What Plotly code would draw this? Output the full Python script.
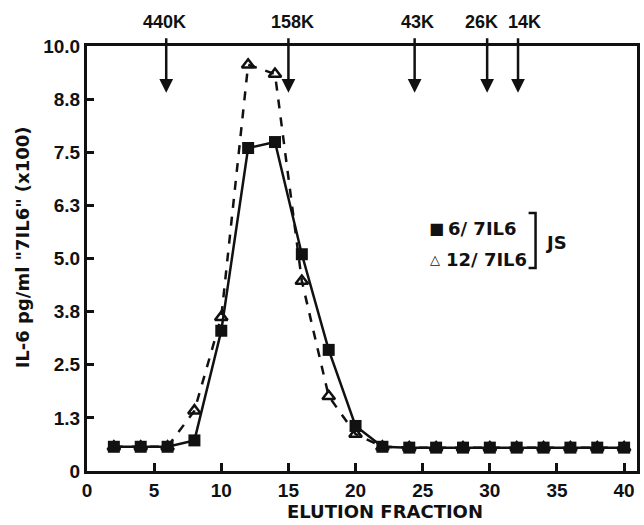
import plotly.graph_objects as go

# ---- data ----
fraction = [2, 4, 6, 8, 10, 12, 14, 16, 18, 20, 22, 24, 26, 28, 30, 32, 34, 36, 38, 40]
il6_6_7 = [0.57, 0.57, 0.57, 0.72, 3.3, 7.6, 7.74, 5.1, 2.85, 1.06, 0.57, 0.55,
           0.55, 0.55, 0.55, 0.55, 0.55, 0.55, 0.55, 0.55]
il6_12_7 = [0.57, 0.57, 0.57, 1.42, 3.62, 9.56, 9.34, 4.47, 1.76, 0.87, 0.57, 0.55,
            0.55, 0.55, 0.55, 0.55, 0.55, 0.55, 0.55, 0.55]

marker_labels = ["440K", "158K", "43K", "26K", "14K"]
marker_pos = [5.9, 15.0, 24.4, 29.8, 32.1]
label_shift = [-2, 4, 3, -6, 6]   # pixel nudges of the labels

y_tickvals = [0, 1.25, 2.5, 3.75, 5.0, 6.25, 7.5, 8.75, 10.0]
y_ticktext = ["0", "1.3", "2.5", "3.8", "5.0", "6.3", "7.5", "8.8", "10.0"]
x_tickvals = [0, 5, 10, 15, 20, 25, 30, 35, 40]

FONT = "Liberation Sans"
WIDE = "DejaVu Sans"
BLACK = "#111111"

fig = go.Figure()

fig.add_trace(go.Scatter(
    x=fraction, y=il6_12_7, mode="lines+markers", name="12/7IL6",
    line=dict(color=BLACK, width=2.5, dash="dash"),
    marker=dict(symbol="triangle-up-open", size=11, color=BLACK,
                line=dict(color=BLACK, width=2.5)),
    showlegend=False, cliponaxis=False))

fig.add_trace(go.Scatter(
    x=fraction, y=il6_6_7, mode="lines+markers", name="6/7IL6",
    line=dict(color=BLACK, width=2.5),
    marker=dict(symbol="square", size=12, color=BLACK),
    showlegend=False, cliponaxis=False))


def px_x(p):
    return (p - 87) / 553.0


def px_y(p):
    return (471 - p) / 425.0


annotations = []
# molecular-weight arrows
for lab, xp, sh in zip(marker_labels, marker_pos, label_shift):
    annotations.append(dict(x=xp, y=8.9, xref="x", yref="y", text="",
                            showarrow=True, arrowhead=2, arrowsize=1.1,
                            arrowwidth=2.5, arrowcolor=BLACK,
                            ax=0, ay=-56, axref="pixel", ayref="pixel"))
    annotations.append(dict(x=xp, y=px_y(22), xref="x", yref="paper", text=f"<b>{lab}</b>",
                            showarrow=False, xanchor="center", yanchor="middle", xshift=sh,
                            font=dict(family=FONT, size=18, color=BLACK)))

annotations += [
    dict(x=px_x(429), y=px_y(228), xref="paper", yref="paper", text="■",
         showarrow=False, xanchor="left", yanchor="middle",
         font=dict(family=WIDE, size=16, color=BLACK)),
    dict(x=px_x(448), y=px_y(228), xref="paper", yref="paper", text="<b>6/ 7IL6</b>",
         showarrow=False, xanchor="left", yanchor="middle",
         font=dict(family=WIDE, size=18, color=BLACK)),
    dict(x=px_x(430), y=px_y(259), xref="paper", yref="paper", text="<b>△</b>",
         showarrow=False, xanchor="left", yanchor="middle",
         font=dict(family=WIDE, size=13, color=BLACK)),
    dict(x=px_x(446), y=px_y(259), xref="paper", yref="paper", text="<b>12/ 7IL6</b>",
         showarrow=False, xanchor="left", yanchor="middle",
         font=dict(family=WIDE, size=18, color=BLACK)),
    dict(x=px_x(545), y=px_y(242), xref="paper", yref="paper", text="<b>JS</b>",
         showarrow=False, xanchor="left", yanchor="middle",
         font=dict(family=WIDE, size=18, color=BLACK)),
    # axis titles
    dict(x=px_x(23), y=px_y(247), xref="paper", yref="paper",
         text='<b>IL-6 pg/ml "7IL6" (x100)</b>', textangle=-90,
         showarrow=False, xanchor="center", yanchor="middle",
         font=dict(family=WIDE, size=18, color=BLACK)),
    dict(x=px_x(387), y=px_y(511), xref="paper", yref="paper",
         text="<b>ELUTION FRACTION</b>",
         showarrow=False, xanchor="center", yanchor="middle",
         font=dict(family=WIDE, size=18, color=BLACK)),
]

shapes = [
    dict(type="path", xref="paper", yref="paper",
         path=f"M {px_x(531)},{px_y(213)} L {px_x(538)},{px_y(213)} "
              f"L {px_x(538)},{px_y(268)} L {px_x(531)},{px_y(268)}",
         line=dict(color=BLACK, width=2.5)),
]

fig.update_layout(
    width=644, height=525,
    margin=dict(l=87, r=4, t=46, b=54),
    paper_bgcolor="white", plot_bgcolor="white",
    font=dict(family=FONT, size=18, color=BLACK),
    annotations=annotations, shapes=shapes,
    xaxis=dict(range=[0, 40.96], tickvals=x_tickvals,
               ticktext=[f"<b>{v}</b>" for v in x_tickvals],
               ticks="inside", ticklen=8, tickwidth=2.5, tickcolor=BLACK,
               showline=True, linewidth=3, linecolor=BLACK, mirror=True,
               showgrid=False, zeroline=False,
               tickfont=dict(family=FONT, size=19, color=BLACK)),
    yaxis=dict(range=[0, 10], tickvals=y_tickvals,
               ticktext=[f"<b>{t}</b>" for t in y_ticktext],
               ticks="inside", ticklen=7, tickwidth=2.5, tickcolor=BLACK,
               showline=True, linewidth=3, linecolor=BLACK, mirror=True,
               showgrid=False, zeroline=False,
               tickfont=dict(family=FONT, size=19, color=BLACK)),
)

fig.write_html("out.html", config={"displayModeBar": False},
               post_script="document.body.style.margin='0';")
